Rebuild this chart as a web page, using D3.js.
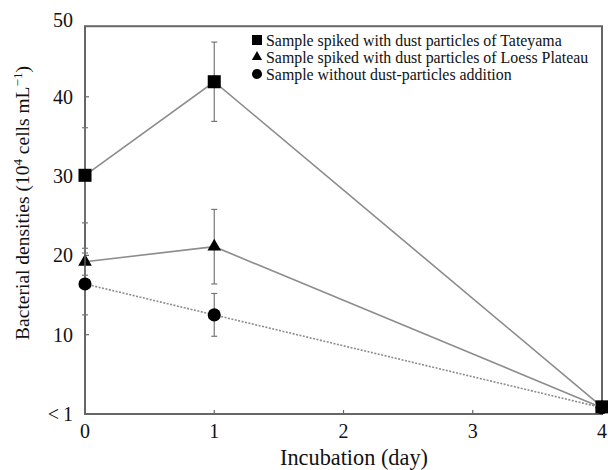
<!DOCTYPE html>
<html lang="en">
<head>
    <meta charset="UTF-8">
    <title>Bacterial densities</title>
    <script src="https://d3js.org/d3.v7.min.js"></script>
    <style>
        body { margin: 0; background: #fff; }
        text { font-family: "Liberation Serif", "Times New Roman", serif; fill: #111; }
        .frame { fill: none; stroke: #666; stroke-width: 2px; }
        .line { fill: none; stroke: #8c8c8c; stroke-width: 1.6px; }
        .err { stroke: #777; stroke-width: 1.2px; }
    </style>
</head>
<body>
<script>
    const days = [0, 1, 4];
    const xTicks = [0, 1, 2, 3, 4];
    const yTicks = [0, 10, 20, 30, 40, 50];
    const yTickLabels = ["<\u20091", "10", "20", "30", "40", "50"];

    const tateyama = [30.1, 41.9, 0.9];
    const tateyamaErr = [6.0, 5.0, 0];
    const loess = [19.2, 21.1, 0.8];
    const loessErr = [1.7, 4.7, 0];
    const control = [16.4, 12.5, 0.8];
    const controlErr = [3.9, 2.7, 0];

    const legendLabels = [
        "Sample spiked with dust particles of Tateyama",
        "Sample spiked with dust particles of Loess Plateau",
        "Sample without dust-particles addition"
    ];

    const width = 608, height = 470;
    const padLeft = 85, padRight = 602, padBottom = 414, padTop = 17.5;

    const svg = d3.select("body").append("svg")
        .attr("width", width)
        .attr("height", height);

    // scale a text's font so its width matches the reference width
    function fitWidth(sel, base, target) {
        const w = sel.node().getComputedTextLength();
        sel.style("font-size", (base * target / w) + "px");
    }

    const x = d3.scaleLinear().domain([0, 4]).range([padLeft, padRight]);
    const y = d3.scaleLinear().domain([0, 50]).range([padBottom, padTop]);
    const frameTop = y(48.9);

    // frame
    svg.append("rect")
        .attr("class", "frame")
        .attr("x", x(0)).attr("y", frameTop)
        .attr("width", x(4) - x(0)).attr("height", y(0) - frameTop);

    // y ticks (inward)
    svg.append("g").selectAll("line")
        .data(yTicks.filter(d => d > 0 && d < 50))
        .enter().append("line")
        .attr("x1", x(0)).attr("x2", x(0) + 4)
        .attr("y1", d => y(d)).attr("y2", d => y(d))
        .attr("stroke", "#666").attr("stroke-width", 1.2);

    svg.append("g").selectAll("text")
        .data(yTicks)
        .enter().append("text")
        .attr("x", x(0) - 12)
        .attr("y", (d, i) => i === yTicks.length - 1 ? frameTop - 6 : y(d))
        .attr("dy", "0.35em")
        .attr("text-anchor", "end")
        .style("font-size", "20px")
        .text((d, i) => yTickLabels[i]);

    // x ticks (inward)
    svg.append("g").selectAll("line")
        .data(xTicks.filter(d => d > 0 && d < 4))
        .enter().append("line")
        .attr("x1", d => x(d)).attr("x2", d => x(d))
        .attr("y1", y(0)).attr("y2", y(0) - 4)
        .attr("stroke", "#666").attr("stroke-width", 1.2);

    svg.append("g").selectAll("text")
        .data(xTicks)
        .enter().append("text")
        .attr("x", d => x(d))
        .attr("y", y(0) + 24)
        .attr("text-anchor", "middle")
        .style("font-size", "20px")
        .text(d => d);

    // axis titles
    const xTitle = svg.append("text")
        .attr("x", 354)
        .attr("y", 465)
        .attr("text-anchor", "middle")
        .style("font-size", "20px")
        .text("Incubation (day)");
    fitWidth(xTitle, 20, 148);

    const yTitle = svg.append("text")
        .attr("transform", "translate(29, 203) rotate(-90)")
        .attr("text-anchor", "middle")
        .style("font-size", "19.5px");
    yTitle.append("tspan").text("Bacterial densities (10");
    yTitle.append("tspan").attr("dy", -7).style("font-size", "13px").text("4");
    yTitle.append("tspan").attr("dy", 7).text(" cells mL");
    yTitle.append("tspan").attr("dy", -7).style("font-size", "13px").text("\u22121");
    yTitle.append("tspan").attr("dy", 7).text(")");

    const series = [
        { vals: tateyama, err: tateyamaErr, shape: d3.symbolSquare, size: 170, dash: null },
        { vals: loess, err: loessErr, shape: d3.symbolTriangle, size: 80, dash: null },
        { vals: control, err: controlErr, shape: d3.symbolCircle, size: 135, dash: "2,1.5" }
    ];

    const line = d3.line().x(d => x(d[0])).y(d => y(d[1]));

    series.forEach(s => {
        const pts = days.map((d, i) => [d, s.vals[i], s.err[i]]);

        svg.append("path")
            .datum(pts)
            .attr("class", "line")
            .attr("stroke-dasharray", s.dash)
            .attr("d", line);

        const eb = svg.append("g");
        pts.filter(p => p[2] > 0).forEach(p => {
            eb.append("line").attr("class", "err")
                .attr("x1", x(p[0])).attr("x2", x(p[0]))
                .attr("y1", y(p[1] + p[2])).attr("y2", y(p[1] - p[2]));
            [p[1] + p[2], p[1] - p[2]].forEach(v => {
                eb.append("line").attr("class", "err")
                    .attr("x1", x(p[0]) - 3).attr("x2", x(p[0]) + 3)
                    .attr("y1", y(v)).attr("y2", y(v));
            });
        });

        svg.append("g").selectAll("path")
            .data(pts)
            .enter().append("path")
            .attr("d", d3.symbol().type(s.shape).size(s.size))
            .attr("transform", d => `translate(${x(d[0])},${y(d[1])})`)
            .attr("fill", "#000");
    });

    // legend
    const legend = svg.append("g");
    const legendSizes = [100, 45, 80];
    const legendTexts = [];
    legendLabels.forEach((lab, i) => {
        const ly = 40 + i * 17;
        legend.append("path")
            .attr("d", d3.symbol().type(series[i].shape).size(legendSizes[i]))
            .attr("transform", `translate(257,${ly})`)
            .attr("fill", "#000");
        legendTexts.push(legend.append("text")
            .attr("x", 266).attr("y", ly)
            .attr("dy", "0.35em")
            .style("font-size", "15px")
            .text(lab));
    });
    // match the first row's width, use same size for all rows
    const w0 = legendTexts[0].node().getComputedTextLength();
    legendTexts.forEach(t => t.style("font-size", (15 * 296 / w0) + "px"));
</script>
</body>
</html>
